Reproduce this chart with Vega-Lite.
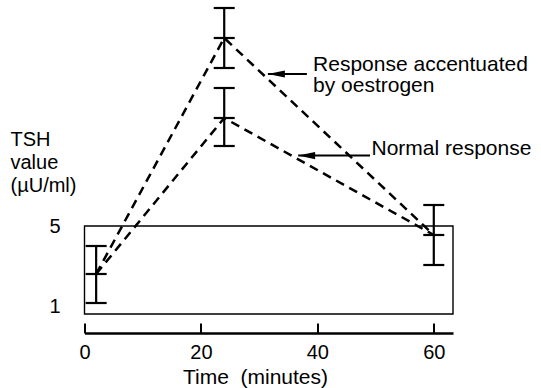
{
  "$schema": "https://vega.github.io/schema/vega-lite/v6.json",
  "width": 368.5,
  "height": 333,
  "autosize": {"type": "none"},
  "padding": {"left": 84.5, "top": 0, "right": 88, "bottom": 55},
  "background": "white",
  "config": {
    "view": {"stroke": null},
    "font": "Liberation Sans",
    "axis": {"grid": false, "domainColor": "black", "tickColor": "black", "labelColor": "black", "titleColor": "black", "labelFont": "Liberation Sans", "titleFont": "Liberation Sans", "titleFontWeight": "normal"}
  },
  "layer": [
    {
      "data": {"values": [{"x": 0, "x2": 63.3, "lo": 0.6, "hi": 5}]},
      "mark": {"type": "rect", "fill": null, "filled": false, "stroke": "black", "strokeWidth": 1.4},
      "encoding": {
        "x": {"field": "x", "type": "quantitative",
          "scale": {"domain": [0, 63.3], "nice": false, "zero": false},
          "axis": {
            "values": [0, 20, 40, 60], "format": "d",
            "domainWidth": 2.5, "tickSize": -10, "tickWidth": 2,
            "labelFontSize": 20, "labelPadding": 19, "labelFlush": false,
            "title": "Time\u00a0 (minutes)", "titleFontSize": 21,
            "titleX": 170.5, "titleY": 50, "titleBaseline": "alphabetic", "titleAlign": "center"
          }},
        "x2": {"field": "x2"},
        "y": {"field": "lo", "type": "quantitative",
          "scale": {"domain": [-0.35, 16.3], "nice": false, "zero": false},
          "axis": {
            "values": [1, 5], "format": "d",
            "domain": false, "ticks": false, "tickSize": 0,
            "labelFontSize": 20, "labelPadding": 24.5, "labelBaseline": "middle",
            "title": ["TSH", "value", "(\u00b5U/ml)"], "titleFontSize": 20,
            "titleAngle": 0, "titleAlign": "left", "titleBaseline": "alphabetic",
            "titleX": -74.5, "titleY": 145, "titleLineHeight": 23
          }},
        "y2": {"field": "hi"}
      }
    },
    {
      "mark": {"type": "rule", "color": "black", "strokeWidth": 2.5},
      "encoding": {
        "x": {"datum": 0, "type": "quantitative"},
        "y": {"datum": -0.35, "type": "quantitative"},
        "y2": {"datum": 12}
      }
    },
    {
      "data": {"values": [
        {"series": "Oestrogen", "time": 2, "value": 2.6},
        {"series": "Oestrogen", "time": 24, "value": 14.4},
        {"series": "Oestrogen", "time": 60, "value": 4.55},
        {"series": "Normal", "time": 2, "value": 2.6},
        {"series": "Normal", "time": 24, "value": 10.4},
        {"series": "Normal", "time": 60, "value": 4.55}
      ]},
      "mark": {"type": "line", "color": "black", "strokeWidth": 2.5, "strokeDash": [9, 6]},
      "encoding": {
        "x": {"field": "time", "type": "quantitative"},
        "y": {"field": "value", "type": "quantitative"},
        "detail": {"field": "series"}
      }
    },
    {
      "data": {"name": "errs", "values": [
        {"time": 2, "lo": 1.15, "mid": 2.6, "hi": 4.0},
        {"time": 24, "lo": 12.9, "mid": 14.4, "hi": 15.9},
        {"time": 24, "lo": 9.0, "mid": 10.4, "hi": 11.9},
        {"time": 60, "lo": 3.05, "mid": 4.55, "hi": 6.05}
      ]},
      "layer": [
        {
          "mark": {"type": "rule", "color": "black", "strokeWidth": 2.2},
          "encoding": {
            "x": {"field": "time", "type": "quantitative"},
            "y": {"field": "lo", "type": "quantitative"},
            "y2": {"field": "hi"}
          }
        },
        {
          "transform": [{"fold": ["lo", "mid", "hi"], "as": ["kind", "v"]}],
          "mark": {"type": "tick", "orient": "horizontal", "color": "black", "size": 21, "thickness": 2.2, "opacity": 1},
          "encoding": {
            "x": {"field": "time", "type": "quantitative"},
            "y": {"field": "v", "type": "quantitative"}
          }
        }
      ]
    },
    {
      "data": {"values": [
        {"tip": 31.5, "end": 38.2, "y": 12.6},
        {"tip": 36.7, "end": 49.05, "y": 8.52}
      ]},
      "layer": [
        {
          "mark": {"type": "rule", "color": "black", "strokeWidth": 2},
          "encoding": {
            "x": {"field": "tip", "type": "quantitative"},
            "x2": {"field": "end"},
            "y": {"field": "y", "type": "quantitative"}
          }
        },
        {
          "mark": {"type": "point", "shape": "M0,0L2,-0.42L2,0.42Z", "filled": true, "color": "black", "opacity": 1, "size": 289, "strokeWidth": 0},
          "encoding": {
            "x": {"field": "tip", "type": "quantitative"},
            "y": {"field": "y", "type": "quantitative"}
          }
        }
      ]
    },
    {
      "data": {"values": [
        {"label": "Response accentuated", "x": 39.26, "y": 12.775},
        {"label": "by oestrogen", "x": 39.26, "y": 11.725},
        {"label": "Normal response", "x": 49.3, "y": 8.575}
      ]},
      "mark": {"type": "text", "align": "left", "baseline": "alphabetic", "fontSize": 21, "font": "Liberation Sans", "color": "black"},
      "encoding": {
        "x": {"field": "x", "type": "quantitative"},
        "y": {"field": "y", "type": "quantitative"},
        "text": {"field": "label"}
      }
    }
  ]
}
